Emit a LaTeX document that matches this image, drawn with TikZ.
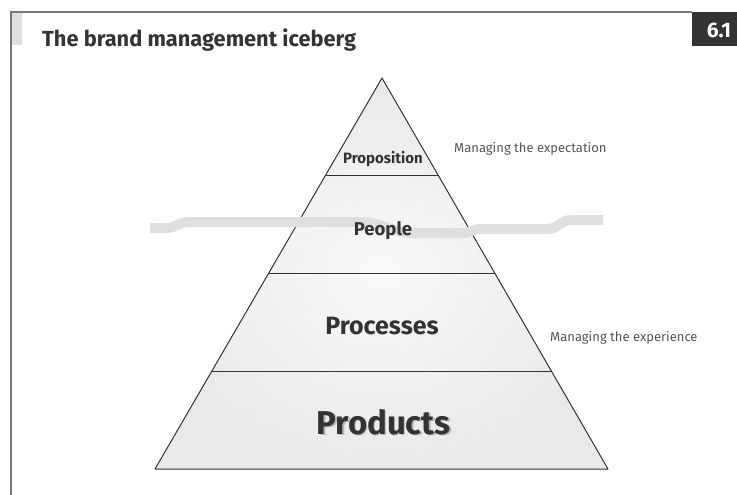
\documentclass[tikz,border=0pt]{standalone}
\usepackage{fontspec}
\setmainfont{Fira Sans}
\usetikzlibrary{calc}
\definecolor{ink}{HTML}{333333}
\definecolor{note}{HTML}{555555}
\definecolor{framegray}{HTML}{777777}
\definecolor{tierfill}{HTML}{E8E9EA}
\definecolor{water}{HTML}{DEDFE0}
\begin{document}
\begin{tikzpicture}[x=1pt,y=-1pt,
  tierlabel/.style={text=ink,font=\bfseries,inner sep=0pt,anchor=base},
  notelabel/.style={text=note,font=\fontsize{13}{15}\selectfont,inner sep=0pt,anchor=base west},
  edge/.style={draw=ink,line width=1pt,line join=round}]
\useasboundingbox (0,0) rectangle (737,495);
\fill[white] (0,0) rectangle (737,495);

% frame, tab marker and figure number
\fill[gray!25] (12,13) rectangle (22,45);
\draw[framegray,line width=1.6pt] (11,495) -- (11,12) -- (692,12);
\fill[ink] (692,12) rectangle (737,46);
\node[text=white,font=\fontsize{21}{24}\selectfont\bfseries,inner sep=0pt,anchor=base] (fig) at (719,38) {6.1};
\node[text=ink,font=\fontsize{21.8}{26}\selectfont\bfseries,inner sep=0pt,anchor=base west] (title) at (42,47) {The brand management iceberg};

% pyramid corners and tier boundaries
\coordinate (A) at (382,78);
\coordinate (BL) at (155,469);
\coordinate (BR) at (608,469);
\coordinate (L1) at ($(A)!0.25!(BL)$);
\coordinate (R1) at ($(A)!0.25!(BR)$);
\coordinate (L2) at ($(A)!0.5!(BL)$);
\coordinate (R2) at ($(A)!0.5!(BR)$);
\coordinate (L3) at ($(A)!0.75!(BL)$);
\coordinate (R3) at ($(A)!0.75!(BR)$);

\shade[inner color=gray!4,outer color=tierfill] (A) -- (BL) -- (BR) -- cycle;
\draw[edge] (A) -- (BL) -- (BR) -- cycle;
\draw[edge] (L1) -- (R1);
\draw[edge] (L2) -- (R2);
\draw[edge] (L3) -- (R3);

% waterline
\draw[water,line width=10pt]
  (150,228) -- (166,228) .. controls (176,228) and (178,222) .. (190,222)
  -- (360,222) .. controls (382,222) and (392,233) .. (414,233)
  -- (462,233) .. controls (470,233) and (472,229) .. (482,229)
  -- (548,229) .. controls (558,229) and (560,220) .. (572,220) -- (603,220);

% tier labels
\node[tierlabel,font=\fontsize{15}{17}\selectfont\bfseries] (prop) at (383,163) {Proposition};
\node[tierlabel,font=\fontsize{18.5}{20}\selectfont\bfseries] (people) at (383,235) {People};
\node[tierlabel,font=\fontsize{25}{28}\selectfont\bfseries] (proc) at (382,334) {Processes};
\node[tierlabel,text=gray!55,font=\fontsize{33}{36}\selectfont\bfseries] (prodshadow) at (385,435.5) {Products};
\node[tierlabel,font=\fontsize{33}{36}\selectfont\bfseries] (prod) at (383.5,434) {Products};

% side notes
\node[notelabel] (expect) at (454,152) {Managing the expectation};
\node[notelabel] (exper) at (550,341) {Managing the experience};
\end{tikzpicture}
\end{document}
